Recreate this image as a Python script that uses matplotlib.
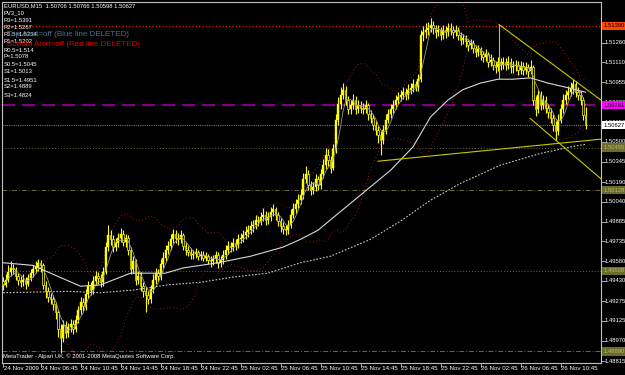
import numpy as np
import pandas as pd
import matplotlib
matplotlib.use("Agg")
import matplotlib.pyplot as plt
import matplotlib.transforms as mtransforms

# EURUSD M15 bars, 24 Nov 2009 03:00 onwards (open = previous close)
first_open = 1.4943
closes = [
    1.4940, 1.4944, 1.4950, 1.4953, 1.4952, 1.4947, 1.4944, 1.4942, 1.4944, 1.4941,
    1.4945, 1.4949, 1.4952, 1.4954, 1.4957, 1.4955, 1.4940, 1.4935, 1.4931, 1.4929,
    1.4925, 1.4919, 1.4906, 1.4899, 1.4909, 1.4903, 1.4908, 1.4910, 1.4906, 1.4913,
    1.4921, 1.4927, 1.4924, 1.4933, 1.4939, 1.4936, 1.4943, 1.4947, 1.4945, 1.4942,
    1.4950, 1.4969, 1.4978, 1.4975, 1.4969, 1.4972, 1.4976, 1.4979, 1.4973, 1.4976,
    1.4967, 1.4952, 1.4958, 1.4944, 1.4947, 1.4939, 1.4935, 1.4932, 1.4929, 1.4937,
    1.4944, 1.4949, 1.4947, 1.4956, 1.4961, 1.4967, 1.4970, 1.4975, 1.4979, 1.4976,
    1.4975, 1.4978, 1.4970, 1.4967, 1.4965, 1.4963, 1.4964, 1.4965, 1.4962, 1.4963,
    1.4961, 1.4962, 1.4959, 1.4958, 1.4960, 1.4963, 1.4957, 1.4959, 1.4963, 1.4967,
    1.4970, 1.4969, 1.4972, 1.4971, 1.4975, 1.4976, 1.4978, 1.4981, 1.4982, 1.4985,
    1.4986, 1.4990, 1.4989, 1.4992, 1.4994, 1.4990, 1.4992, 1.4996, 1.4998, 1.4994,
    1.4989, 1.4985, 1.4983, 1.4982, 1.4986, 1.4994, 1.4998, 1.5002, 1.5005, 1.5009,
    1.5021, 1.5025, 1.5017, 1.5013, 1.5015, 1.5021, 1.5017, 1.5025, 1.5032, 1.5040,
    1.5036, 1.5030, 1.5044, 1.5067, 1.5079, 1.5086, 1.5090, 1.5082, 1.5075, 1.5078,
    1.5082, 1.5075, 1.5078, 1.5076, 1.5075, 1.5078, 1.5071, 1.5068, 1.5063, 1.5059,
    1.5055, 1.5051, 1.5059, 1.5067, 1.5071, 1.5075, 1.5078, 1.5082, 1.5084, 1.5086,
    1.5088, 1.5086, 1.5090, 1.5091, 1.5094, 1.5092, 1.5098, 1.5132, 1.5134, 1.5136,
    1.5137, 1.5140, 1.5137, 1.5134, 1.5136, 1.5132, 1.5136, 1.5134, 1.5137, 1.5136,
    1.5134, 1.5136, 1.5132, 1.5128, 1.5130, 1.5127, 1.5124, 1.5126, 1.5122, 1.5119,
    1.5121, 1.5117, 1.5115, 1.5117, 1.5111, 1.5113, 1.5109, 1.5107, 1.5111, 1.5109,
    1.5111, 1.5109, 1.5111, 1.5107, 1.5108, 1.5109, 1.5105, 1.5108, 1.5105, 1.5107,
    1.5104, 1.5107, 1.5082, 1.5075, 1.5086, 1.5078, 1.5082, 1.5076, 1.5073, 1.5068,
    1.5063, 1.5058, 1.5067, 1.5075, 1.5082, 1.5086, 1.5088, 1.5091, 1.5094, 1.5088,
    1.5086, 1.5082, 1.50706, 1.50627]
highs = [
    1.4946, 1.4948, 1.4955, 1.4958, 1.4956, 1.4954, 1.4949, 1.4947, 1.4948, 1.4946,
    1.4948, 1.4952, 1.4955, 1.4958, 1.4960, 1.4959, 1.4957, 1.4943, 1.4938, 1.4934,
    1.4932, 1.4927, 1.4921, 1.4910, 1.4913, 1.4912, 1.4911, 1.4914, 1.4913, 1.4917,
    1.4924, 1.4931, 1.4930, 1.4937, 1.4943, 1.4942, 1.4947, 1.4951, 1.4950, 1.4948,
    1.4954, 1.4973, 1.4986, 1.4982, 1.4978, 1.4976, 1.4980, 1.4984, 1.4982, 1.4979,
    1.4978, 1.4969, 1.4962, 1.4960, 1.4951, 1.4950, 1.4942, 1.4938, 1.4935, 1.4940,
    1.4948, 1.4953, 1.4952, 1.4960, 1.4965, 1.4971, 1.4974, 1.4979, 1.4983, 1.4982,
    1.4980, 1.4982, 1.4980, 1.4973, 1.4970, 1.4968, 1.4967, 1.4968, 1.4967, 1.4966,
    1.4966, 1.4965, 1.4964, 1.4962, 1.4963, 1.4966, 1.4965, 1.4962, 1.4967, 1.4971,
    1.4974, 1.4973, 1.4976, 1.4975, 1.4979, 1.4980, 1.4982, 1.4985, 1.4986, 1.4989,
    1.4990, 1.4994, 1.4993, 1.4996, 1.4999, 1.4997, 1.4996, 1.5000, 1.5002, 1.5000,
    1.4996, 1.4991, 1.4988, 1.4986, 1.4990, 1.4998, 1.5003, 1.5006, 1.5010, 1.5014,
    1.5026, 1.5031, 1.5028, 1.5020, 1.5019, 1.5025, 1.5024, 1.5029, 1.5037, 1.5045,
    1.5044, 1.5039, 1.5048, 1.5071, 1.5084, 1.5092, 1.5095, 1.5093, 1.5085, 1.5082,
    1.5087, 1.5085, 1.5082, 1.5081, 1.5080, 1.5082, 1.5080, 1.5074, 1.5071, 1.5066,
    1.5062, 1.5058, 1.5063, 1.5071, 1.5075, 1.5079, 1.5082, 1.5086, 1.5088, 1.5090,
    1.5092, 1.5091, 1.5094, 1.5095, 1.5098, 1.5097, 1.5102, 1.5136, 1.5139, 1.5141,
    1.5142, 1.5145, 1.5143, 1.5140, 1.5140, 1.5138, 1.5140, 1.5139, 1.5141, 1.5141,
    1.5139, 1.5140, 1.5138, 1.5134, 1.5133, 1.5132, 1.5129, 1.5129, 1.5128, 1.5124,
    1.5124, 1.5123, 1.5120, 1.5121, 1.5119, 1.5117, 1.5115, 1.5112, 1.5115, 1.5114,
    1.5115, 1.5114, 1.5116, 1.5114, 1.5112, 1.5113, 1.5112, 1.5112, 1.5111, 1.5111,
    1.5110, 1.5113, 1.5109, 1.5085, 1.5090, 1.5089, 1.5086, 1.5085, 1.5079, 1.5076,
    1.5071, 1.5066, 1.5071, 1.5079, 1.5087, 1.5090, 1.5093, 1.5096, 1.5098, 1.5097,
    1.5092, 1.5089, 1.5084, 1.50766]
lows = [
    1.4936, 1.4938, 1.4942, 1.4947, 1.4948, 1.4944, 1.4940, 1.4938, 1.4939, 1.4937,
    1.4939, 1.4943, 1.4946, 1.4949, 1.4951, 1.4950, 1.4937, 1.4930, 1.4927, 1.4925,
    1.4921, 1.4914, 1.4900, 1.4888, 1.4896, 1.4899, 1.4900, 1.4904, 1.4902, 1.4904,
    1.4911, 1.4918, 1.4920, 1.4921, 1.4930, 1.4932, 1.4933, 1.4940, 1.4941, 1.4938,
    1.4939, 1.4948, 1.4966, 1.4971, 1.4965, 1.4966, 1.4969, 1.4973, 1.4970, 1.4969,
    1.4963, 1.4948, 1.4949, 1.4940, 1.4941, 1.4935, 1.4931, 1.4919, 1.4925, 1.4926,
    1.4934, 1.4941, 1.4943, 1.4944, 1.4953, 1.4958, 1.4964, 1.4967, 1.4972, 1.4972,
    1.4971, 1.4972, 1.4967, 1.4963, 1.4962, 1.4960, 1.4960, 1.4961, 1.4959, 1.4959,
    1.4958, 1.4958, 1.4956, 1.4954, 1.4955, 1.4957, 1.4953, 1.4954, 1.4956, 1.4960,
    1.4964, 1.4965, 1.4966, 1.4967, 1.4968, 1.4972, 1.4973, 1.4975, 1.4977, 1.4979,
    1.4981, 1.4983, 1.4985, 1.4986, 1.4989, 1.4986, 1.4987, 1.4989, 1.4993, 1.4990,
    1.4985, 1.4981, 1.4979, 1.4978, 1.4979, 1.4984, 1.4991, 1.4995, 1.4999, 1.5002,
    1.5006, 1.5018, 1.5013, 1.5009, 1.5010, 1.5012, 1.5013, 1.5014, 1.5022, 1.5029,
    1.5031, 1.5026, 1.5028, 1.5041, 1.5063, 1.5075, 1.5083, 1.5078, 1.5071, 1.5071,
    1.5075, 1.5071, 1.5072, 1.5072, 1.5071, 1.5072, 1.5067, 1.5064, 1.5059, 1.5055,
    1.5049, 1.5040, 1.5048, 1.5056, 1.5064, 1.5068, 1.5072, 1.5075, 1.5079, 1.5081,
    1.5083, 1.5082, 1.5083, 1.5087, 1.5088, 1.5089, 1.5089, 1.5096, 1.5127, 1.5130,
    1.5132, 1.5134, 1.5133, 1.5130, 1.5131, 1.5128, 1.5129, 1.5130, 1.5131, 1.5132,
    1.5130, 1.5131, 1.5128, 1.5124, 1.5125, 1.5123, 1.5120, 1.5121, 1.5118, 1.5115,
    1.5116, 1.5113, 1.5111, 1.5112, 1.5107, 1.5108, 1.5105, 1.5103, 1.5104, 1.5105,
    1.5106, 1.5105, 1.5106, 1.5103, 1.5103, 1.5104, 1.5101, 1.5102, 1.5101, 1.5102,
    1.5100, 1.5102, 1.5078, 1.5070, 1.5072, 1.5074, 1.5075, 1.5072, 1.5068, 1.5064,
    1.5058, 1.5051, 1.5055, 1.5064, 1.5072, 1.5079, 1.5083, 1.5085, 1.5087, 1.5084,
    1.5082, 1.5078, 1.5067, 1.50598]

# moving averages (bar index, price)
ma_bars = [0, 12, 19, 31, 39, 51, 65, 72, 86, 99, 112, 119, 126, 131, 143, 155,
           158, 164, 171, 178, 184, 191, 198, 204, 211, 218, 227, 233]
ma_vals = [1.4957, 1.4955, 1.4949, 1.4939, 1.4940, 1.4949, 1.4949, 1.4953, 1.4957,
           1.4962, 1.4969, 1.4975, 1.4982, 1.4990, 1.5009, 1.5028, 1.5034, 1.5046,
           1.5069, 1.5082, 1.5090, 1.5095, 1.5098, 1.5098, 1.5099, 1.5095, 1.5091, 1.5088]
ma_long_bars = [0, 26, 39, 52, 66, 79, 92, 106, 119, 131, 147, 159, 171, 183, 199,
                215, 227, 233]
ma_long_vals = [1.4934, 1.4935, 1.4934, 1.4936, 1.4940, 1.4942, 1.4946, 1.4949,
                1.4957, 1.4962, 1.4975, 1.4989, 1.5005, 1.5018, 1.5032, 1.5041,
                1.5046, 1.5048]

# pivot levels (PV3_10)
pivot_names = ["R3", "R2", "R1.5", "R1", "R0.5", "P", "S0.5", "S1", "S1.5", "S2", "S3"]
pivot_vals = ["1.5391", "1.5267", "1.5234", "1.5202", "1.514", "1.5078", "1.5045",
              "1.5013", "1.4951", "1.4889", "1.4824"]

# drawn objects (bar index, price)
support_line = [(150, 1.5035), (239.5, 1.5052)]
channel_top = [(198.4, 1.5140), (239.5, 1.50815)]
channel_bottom = [(210.8, 1.5068), (239.5, 1.5021)]
channel_mark = [(198.4, 1.5140), (198.4, 1.5099)]

price_ticks = [1.51260, 1.51110, 1.50955, 1.50800, 1.50650, 1.50500, 1.50345,
               1.50190, 1.50040, 1.49885, 1.49735, 1.49580, 1.49430, 1.49275,
               1.49125, 1.48970, 1.48815]

n = len(closes)
opens = [first_open] + closes[:-1]
x = np.arange(n)
o = np.array(opens)
c = np.array(closes)
times = pd.date_range("2009-11-24 03:00", periods=n, freq="15min")

FONT = "Liberation Sans"
W, H = 625, 375
fig = plt.figure(figsize=(W / 100, H / 100), dpi=100, facecolor="black")
ax = fig.add_axes([2 / W, 12 / H, 599 / W, 361 / H], facecolor="black")
ax.set_xlim(-0.4, 239.2)
ax.set_ylim(1.48800, 1.51573)
for s in ax.spines.values():
    s.set_color("#c0c0c0")
    s.set_linewidth(0.8)
ax.set_xticks([])
ax.set_yticks([])

yel = "#ffff00"
# horizontal levels
ax.axhline(1.51390, color="#ff2a00", lw=0.8, ls=(0, (1, 2)), zorder=1)
ax.axhline(1.50781, color="#800080", lw=1.6, ls=(0, (6, 3)), zorder=1)
ax.axhline(1.50627, color="#707070", lw=0.8, ls=(0, (1, 1)), zorder=1)
ax.axhline(1.50455, color="#6b6b3a", lw=0.7, ls=(0, (1, 2)), zorder=1)
ax.axhline(1.50128, color="#6b6b3a", lw=0.7, ls=(0, (5, 2, 1, 2)), zorder=1)
ax.axhline(1.49508, color="#6b6b3a", lw=0.7, ls=(0, (1, 2)), zorder=1)
ax.axhline(1.48890, color="#6b6b3a", lw=0.7, ls=(0, (5, 2, 1, 2)), zorder=1)

# bollinger bands + short ma
cs = pd.Series(closes)
mid = cs.rolling(20, min_periods=5).mean()
sd = cs.rolling(20, min_periods=5).std()
ax.plot(x, mid + 2 * sd, color="#9a1a10", lw=0.7, ls=(0, (1, 2.5)), zorder=2)
ax.plot(x, mid - 2 * sd, color="#9a1a10", lw=0.7, ls=(0, (1, 2.5)), zorder=2)

# candles
ax.vlines(x, lows, highs, color=yel, lw=0.8, zorder=3)
bottom = np.minimum(o, c)
height = np.maximum(np.abs(c - o), 0.00003)
up = c >= o
ax.bar(x[up], height[up], bottom=bottom[up], width=0.6, color=yel,
       edgecolor=yel, lw=0.3, zorder=4)
ax.bar(x[~up], height[~up], bottom=bottom[~up], width=0.6, color="black",
       edgecolor=yel, lw=0.5, zorder=4)

ax.plot(x, cs.rolling(5, min_periods=1).mean(), color="#9a9a9a", lw=0.6, zorder=5)
ax.plot(ma_bars, ma_vals, color="#d8d8d8", lw=0.8, zorder=5)
ax.plot(ma_long_bars, ma_long_vals, color="#c8c8c8", lw=0.8, ls=(0, (1.5, 1.5)), zorder=5)

for ln in [support_line, channel_top, channel_bottom, channel_mark]:
    ax.plot([p[0] for p in ln], [p[1] for p in ln], color="#c8c800", lw=0.8, zorder=6)

# right price scale
ty = mtransforms.blended_transform_factory(ax.transAxes, ax.transData)
for v in price_ticks:
    ax.plot([1.0, 1.006], [v, v], color="#c0c0c0", lw=0.6, transform=ty, clip_on=False)
    ax.text(1.006, v, f"{v:.5f}", transform=ty, color="white", fontsize=4.2,
            family=FONT, va="center", ha="left", clip_on=False)

boxes = [(1.51390, "#ff4500", "black"), (1.50781, "#ff00ff", "black"),
         (1.50627, "white", "black"), (1.50455, "#6b6b2a", "#b8b870"),
         (1.50128, "#6b6b2a", "#b8b870"), (1.49508, "#6b6b2a", "#b8b870"),
         (1.48890, "#6b6b2a", "#b8b870")]
for v, bg, fg in boxes:
    ax.text(1.005, v, f"{v:.5f}", transform=ty, color=fg, fontsize=4.2,
            family=FONT, va="center", ha="left", clip_on=False,
            bbox=dict(boxstyle="square,pad=0.3", fc=bg, ec="none"))

# time scale
tx = mtransforms.blended_transform_factory(ax.transData, ax.transAxes)
tick_idx = [0] + [i for i, t in enumerate(times) if t.minute == 45 and t.hour % 4 == 2]
for i in tick_idx:
    lab = times[i].strftime("%d %b %Y") if i == 0 else times[i].strftime("%d %b %H:%M")
    ax.plot([i, i], [0, -0.01], color="#c0c0c0", lw=0.6, transform=tx, clip_on=False)
    ax.text(i + 0.3, -0.008, lab, transform=tx, color="white", fontsize=4.4,
            family=FONT, va="top", ha="left", clip_on=False)

# info texts
def px(xp, yp):
    return xp / W, 1 - yp / H

small = dict(color="white", fontsize=4.2, family=FONT, va="center")
fig.text(*px(4, 5.5), "EURUSD,M15  1.50706 1.50766 1.50598 1.50627", **small)
fig.text(*px(4, 12.5), "PV3_10", **small)
rows_y = [20, 27.5, 34.5, 41.5, 50, 57, 64.5, 71.5, 80, 87, 95]
for nm, v, yy in zip(pivot_names, pivot_vals, rows_y):
    fig.text(*px(4, yy), f"{nm}={v}", **small)
fig.text(*px(7, 34), "Top Alert=off (Blue line DELETED)", color="#4f7090",
         fontsize=5.8, family=FONT, va="center")
fig.text(*px(7, 44), "Bottom Alert=off (Red line DELETED)", color="#e00000",
         fontsize=5.8, family=FONT, va="center")
fig.text(*px(3, 356), "MetaTrader - Alpari UK, \u00a9 2001-2008 MetaQuotes Software Corp.", **small)

fig.savefig("out.png", dpi=100, facecolor="black")
